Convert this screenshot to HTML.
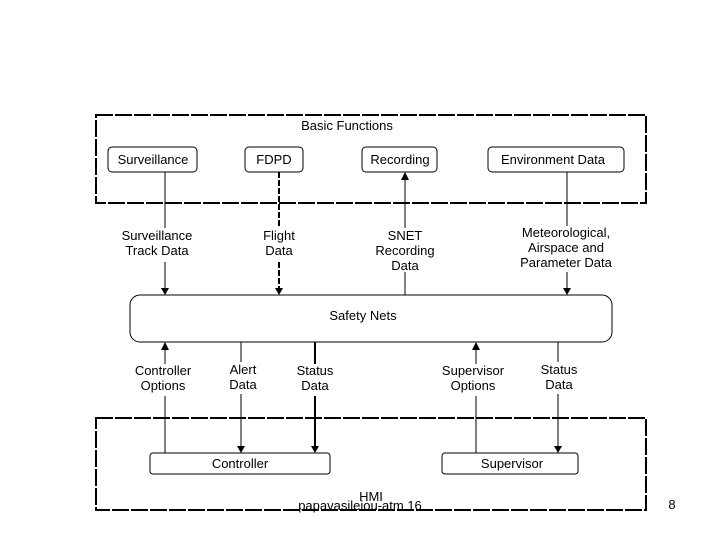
<!DOCTYPE html>
<html><head><style>body{margin:0;background:#fff}svg{display:block}text{font-family:"Liberation Sans",sans-serif;font-size:13px;fill:#000}</style></head><body>
<svg width="720" height="540" viewBox="0 0 720 540" xmlns="http://www.w3.org/2000/svg">
<g fill="none" stroke="#000">
<rect x="96" y="115" width="550" height="88" stroke-width="2" stroke-dasharray="17,2"/>
<rect x="96" y="418" width="550" height="92" stroke-width="2" stroke-dasharray="17,2"/>
<rect x="108" y="147" width="89" height="25" rx="4"/>
<rect x="245" y="147" width="58" height="25" rx="4"/>
<rect x="362" y="147" width="75" height="25" rx="4"/>
<rect x="488" y="147" width="136" height="25" rx="4"/>
<rect x="130" y="295" width="482" height="47" rx="10"/>
<rect x="150" y="453" width="180" height="21" rx="3"/>
<rect x="442" y="453" width="136" height="21" rx="3"/>
<path d="M165 172V228M165 262V288"/>
<path d="M279 172V228M279 262V288" stroke-width="2" stroke-dasharray="6,2"/>
<path d="M405 180V228M405 272V295"/>
<path d="M567 172V226M567 272V288"/>
<path d="M165 350V364M165 396V453"/>
<path d="M241 342V362M241 394V446"/>
<path d="M315 342V364M315 396V446" stroke-width="2"/>
<path d="M476 350V364M476 396V453"/>
<path d="M558 342V362M558 394V446"/>
</g>
<g>
<path d="M161 288h8l-4 7z"/><path d="M275 288h8l-4 7z"/><path d="M401 180h8l-4-8z"/><path d="M563 288h8l-4 7z"/>
<path d="M161 350h8l-4-8z"/><path d="M472 350h8l-4-8z"/><path d="M237 446h8l-4 7z"/><path d="M311 446h8l-4 7z"/><path d="M554 446h8l-4 7z"/>
</g>
<g text-anchor="middle">
<text x="347" y="130">Basic  Functions</text>
<text x="153" y="164">Surveillance</text>
<text x="274" y="164">FDPD</text>
<text x="400" y="164">Recording</text>
<text x="553" y="164">Environment Data</text>
<text x="157" y="240" font-size="11.5">Surveillance</text><text x="157" y="255" font-size="11.5">Track Data</text>
<text x="279" y="240" font-size="11.5">Flight</text><text x="279" y="255" font-size="11.5">Data</text>
<text x="405" y="240" font-size="11.5">SNET</text><text x="405" y="255" font-size="11.5">Recording</text><text x="405" y="270" font-size="11.5">Data</text>
<text x="566" y="237" font-size="11.5">Meteorological,</text><text x="566" y="252" font-size="11.5">Airspace and</text><text x="566" y="267" font-size="11.5">Parameter Data</text>
<text x="363" y="320">Safety Nets</text>
<text x="163" y="375" font-size="11.5">Controller</text><text x="163" y="390" font-size="11.5">Options</text>
<text x="243" y="374" font-size="11.5">Alert</text><text x="243" y="389" font-size="11.5">Data</text>
<text x="315" y="375" font-size="11.5">Status</text><text x="315" y="390" font-size="11.5">Data</text>
<text x="473" y="375" font-size="11.5">Supervisor</text><text x="473" y="390" font-size="11.5">Options</text>
<text x="559" y="374" font-size="11.5">Status</text><text x="559" y="389" font-size="11.5">Data</text>
<text x="240" y="468">Controller</text>
<text x="512" y="468">Supervisor</text>
<text x="371" y="501" font-size="14">HMI</text>
<text x="360" y="510" font-size="14">papavasileiou-atm 16</text>
<text x="672" y="509" font-size="13">8</text>
</g>
</svg>
</body></html>
